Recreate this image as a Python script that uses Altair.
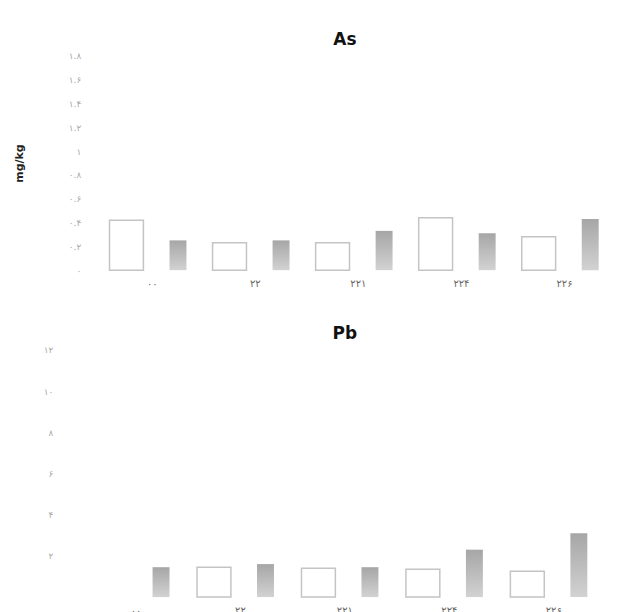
import altair as alt
import pandas as pd

groups = ["۰۰", "۲۲", "۲۲۱", "۲۲۴", "۲۲۶"]
series = ["اول", "دوم"]

as_first = [0.42, 0.23, 0.23, 0.44, 0.28]
as_second = [0.25, 0.25, 0.33, 0.31, 0.43]
pb_first = [None, 1.45, 1.4, 1.35, 1.25]
pb_second = [1.45, 1.6, 1.45, 2.3, 3.1]

as_ticks = [0, 0.2, 0.4, 0.6, 0.8, 1.0, 1.2, 1.4, 1.6, 1.8]
pb_ticks = [2, 4, 6, 8, 10, 12]

FONT = "DejaVu Sans"

persian = "datum.label"
for d, p in zip("0123456789", "۰۱۲۳۴۵۶۷۸۹"):
    persian = f"replace({persian}, '{d}', '{p}')"


def frame(first, second):
    rows = []
    for g, a, b in zip(groups, first, second):
        rows.append({"group": g, "series": series[0], "value": a})
        rows.append({"group": g, "series": series[1], "value": b})
    return pd.DataFrame(rows)


gray_fill = alt.Gradient(
    gradient="linear",
    stops=[alt.GradientStop(color="#a6a6a6", offset=0),
           alt.GradientStop(color="#d2d2d2", offset=1)],
    x1=0, x2=0, y1=0, y2=1,
)


def panel(df, title, ticks, ymax, height, ytitle, yoffset, xrange=None):
    if xrange is not None:
        xscale = alt.Scale(paddingInner=0, paddingOuter=0, range=xrange)
    else:
        xscale = alt.Scale(paddingInner=0, paddingOuter=0)
    x = alt.X("group:N", sort=groups, title=None, scale=xscale,
              axis=alt.Axis(labelAngle=0, domain=False, ticks=False,
                            labelColor="#666666", labelFont=FONT,
                            labelFontSize=10, labelPadding=8))
    xo = alt.XOffset("series:N", sort=series,
                     scale=alt.Scale(domain=series, paddingInner=0, paddingOuter=0))
    y = alt.Y("value:Q", title=ytitle,
              scale=alt.Scale(domain=[0, ymax], nice=False),
              axis=alt.Axis(values=ticks, format="~g", labelExpr=persian,
                            domain=False, ticks=False, grid=False,
                            labelColor="#a8a8a8", labelFont=FONT,
                            labelFontSize=9, labelPadding=3, offset=yoffset,
                            titleFont=FONT, titleFontSize=11,
                            titleFontWeight="bold", titleColor="#222222",
                            titlePadding=44))
    first = alt.Chart(df).transform_filter(
        alt.datum.series == series[0]
    ).mark_bar(size=34, fill="white", stroke="#c4c4c4",
               strokeWidth=1.5).encode(x=x, xOffset=xo, y=y)
    second = alt.Chart(df).transform_filter(
        alt.datum.series == series[1]
    ).mark_bar(size=17, fill=gray_fill).encode(x=x, xOffset=xo, y=y)
    return alt.layer(first, second).properties(
        width=524, height=height,
        view=alt.ViewBackground(stroke="transparent", strokeWidth=0),
        title=alt.TitleParams(title, font=FONT, fontSize=17,
                              fontWeight="bold", color="#111111",
                              anchor="middle", offset=3),
    )


top = panel(frame(as_first, as_second), "As", as_ticks, 1.8, 215,
            "mg/kg", 0, xrange=[17, 534])
bottom = panel(frame(pb_first, pb_second), "Pb", pb_ticks, 12, 248,
               None, 28)

chart = alt.vconcat(top, bottom, spacing=37).properties(
    padding={"top": 22, "left": 5, "right": 5, "bottom": 5}
).configure_view(stroke="transparent", strokeWidth=0).configure(font=FONT)

chart.save("out.html", embed_options={"renderer": "svg", "actions": False})
